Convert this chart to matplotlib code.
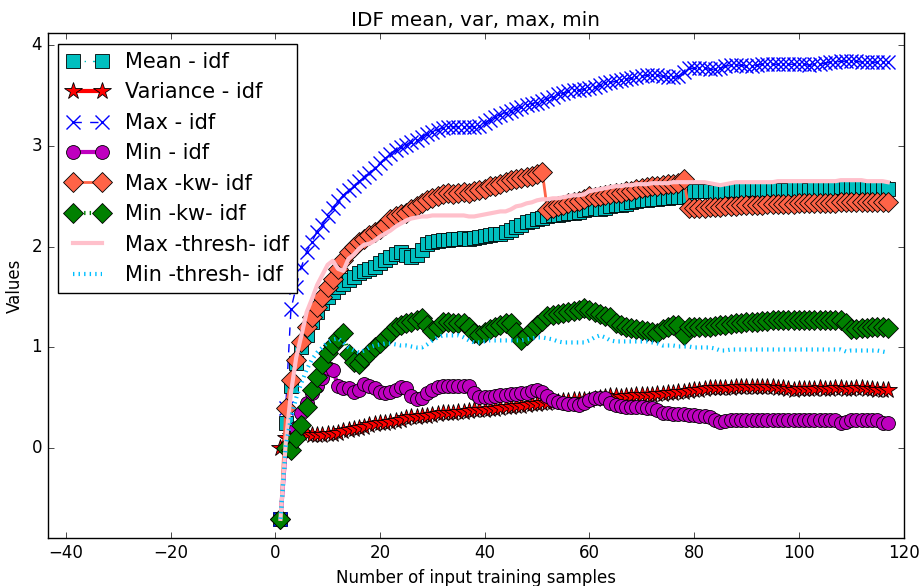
import matplotlib
matplotlib.use("Agg")
import matplotlib.pyplot as plt

plt.style.use("classic")

# number of training samples
samples = list(range(1, 118))

mean_idf = [
    -0.70, 0.25, 0.62, 0.85, 1.00, 1.12, 1.25, 1.35, 1.44, 1.50,
    1.55, 1.60, 1.63, 1.67, 1.70, 1.74, 1.76, 1.78, 1.80, 1.84,
    1.87, 1.90, 1.93, 1.95, 1.92, 1.90, 1.92, 1.97, 2.03, 2.05,
    2.06, 2.07, 2.07, 2.08, 2.08, 2.09, 2.08, 2.09, 2.10, 2.11,
    2.12, 2.13, 2.13, 2.15, 2.17, 2.20, 2.22, 2.24, 2.25, 2.27,
    2.28, 2.30, 2.31, 2.31, 2.32, 2.33, 2.33, 2.34, 2.36, 2.37,
    2.38, 2.37, 2.38, 2.40, 2.41, 2.41, 2.42, 2.44, 2.45, 2.46,
    2.46, 2.47, 2.47, 2.48, 2.48, 2.49, 2.49, 2.49, 2.50, 2.55,
    2.55, 2.55, 2.55, 2.54, 2.54, 2.55, 2.56, 2.56, 2.56, 2.56,
    2.57, 2.57, 2.56, 2.57, 2.57, 2.57, 2.56, 2.56, 2.57, 2.57,
    2.57, 2.56, 2.57, 2.57, 2.57, 2.57, 2.58, 2.59, 2.59, 2.59,
    2.59, 2.59, 2.59, 2.59, 2.58, 2.58, 2.57,
]

var_idf = [
    0.00, 0.10, 0.12, 0.14, 0.15, 0.14, 0.13, 0.13, 0.13, 0.14,
    0.14, 0.15, 0.17, 0.18, 0.19, 0.20, 0.21, 0.23, 0.24, 0.25,
    0.25, 0.26, 0.27, 0.28, 0.30, 0.31, 0.31, 0.32, 0.32, 0.33,
    0.34, 0.35, 0.35, 0.35, 0.36, 0.36, 0.37, 0.38, 0.38, 0.38,
    0.39, 0.39, 0.40, 0.41, 0.41, 0.42, 0.42, 0.43, 0.44, 0.44,
    0.45, 0.45, 0.46, 0.46, 0.47, 0.47, 0.48, 0.48, 0.48, 0.48,
    0.49, 0.50, 0.51, 0.52, 0.52, 0.51, 0.52, 0.52, 0.53, 0.53,
    0.53, 0.53, 0.54, 0.54, 0.55, 0.55, 0.56, 0.56, 0.57, 0.58,
    0.58, 0.59, 0.60, 0.60, 0.60, 0.60, 0.60, 0.61, 0.61, 0.61,
    0.61, 0.61, 0.61, 0.61, 0.61, 0.60, 0.60, 0.59, 0.58, 0.59,
    0.59, 0.59, 0.59, 0.60, 0.59, 0.59, 0.60, 0.60, 0.59, 0.59,
    0.60, 0.60, 0.59, 0.59, 0.58, 0.58, 0.58,
]

max_idf = [
    -0.70, 0.40, 1.38, 1.60, 1.80, 1.95, 2.05, 2.15, 2.22, 2.30,
    2.38, 2.45, 2.51, 2.56, 2.60, 2.65, 2.69, 2.73, 2.78, 2.83,
    2.88, 2.92, 2.96, 2.99, 3.01, 3.04, 3.06, 3.09, 3.12, 3.14,
    3.16, 3.18, 3.19, 3.19, 3.19, 3.19, 3.19, 3.19, 3.20, 3.23,
    3.26, 3.29, 3.31, 3.33, 3.35, 3.37, 3.39, 3.41, 3.42, 3.43,
    3.45, 3.47, 3.49, 3.51, 3.52, 3.54, 3.55, 3.55, 3.56, 3.57,
    3.58, 3.60, 3.62, 3.63, 3.64, 3.65, 3.66, 3.67, 3.68, 3.69,
    3.70, 3.70, 3.70, 3.69, 3.68, 3.68, 3.69, 3.73, 3.77, 3.77,
    3.77, 3.77, 3.76, 3.76, 3.77, 3.79, 3.80, 3.80, 3.80, 3.79,
    3.79, 3.80, 3.81, 3.81, 3.81, 3.81, 3.81, 3.81, 3.81, 3.81,
    3.81, 3.80, 3.81, 3.81, 3.82, 3.83, 3.83, 3.84, 3.84, 3.84,
    3.84, 3.83, 3.83, 3.83, 3.83, 3.83, 3.83,
]

min_idf = [
    -0.70, 0.00, 0.05, 0.20, 0.35, 0.45, 0.55, 0.62, 0.70, 0.80,
    0.78, 0.62, 0.60, 0.60, 0.56, 0.58, 0.64, 0.62, 0.60, 0.56,
    0.55, 0.56, 0.58, 0.61, 0.60, 0.52, 0.49, 0.50, 0.55, 0.58,
    0.61, 0.62, 0.62, 0.62, 0.62, 0.62, 0.62, 0.55, 0.51, 0.51,
    0.51, 0.52, 0.53, 0.53, 0.54, 0.54, 0.55, 0.55, 0.57, 0.58,
    0.56, 0.52, 0.48, 0.46, 0.45, 0.44, 0.44, 0.43, 0.45, 0.48,
    0.50, 0.50, 0.50, 0.45, 0.43, 0.42, 0.41, 0.41, 0.41, 0.41,
    0.40, 0.40, 0.38, 0.35, 0.35, 0.34, 0.34, 0.34, 0.33, 0.33,
    0.32, 0.32, 0.31, 0.28, 0.26, 0.27, 0.28, 0.28, 0.28, 0.28,
    0.28, 0.28, 0.28, 0.28, 0.28, 0.28, 0.28, 0.28, 0.28, 0.28,
    0.28, 0.28, 0.28, 0.28, 0.28, 0.28, 0.28, 0.25, 0.26, 0.28,
    0.28, 0.28, 0.28, 0.28, 0.28, 0.25, 0.25,
]

max_kw_idf = [
    -0.70, 0.40, 0.68, 0.88, 1.05, 1.20, 1.30, 1.40, 1.50, 1.60,
    1.68, 1.78, 1.87, 1.95, 2.00, 2.05, 2.08, 2.12, 2.15, 2.18,
    2.22, 2.27, 2.30, 2.32, 2.33, 2.37, 2.40, 2.43, 2.46, 2.48,
    2.50, 2.52, 2.53, 2.52, 2.53, 2.54, 2.53, 2.55, 2.56, 2.57,
    2.60, 2.60, 2.62, 2.64, 2.66, 2.67, 2.68, 2.69, 2.70, 2.72,
    2.74, 2.36, 2.38, 2.40, 2.41, 2.43, 2.44, 2.45, 2.47, 2.50,
    2.49, 2.50, 2.51, 2.52, 2.53, 2.53, 2.55, 2.55, 2.57, 2.58,
    2.59, 2.60, 2.60, 2.61, 2.62, 2.62, 2.63, 2.67, 2.38, 2.38,
    2.38, 2.38, 2.39, 2.39, 2.39, 2.40, 2.40, 2.40, 2.41, 2.41,
    2.41, 2.41, 2.41, 2.42, 2.42, 2.42, 2.42, 2.42, 2.42, 2.43,
    2.43, 2.43, 2.43, 2.43, 2.43, 2.43, 2.43, 2.44, 2.44, 2.44,
    2.44, 2.44, 2.44, 2.44, 2.44, 2.44, 2.44,
]

min_kw_idf = [
    -0.70, 0.00, -0.02, 0.10, 0.23, 0.41, 0.58, 0.71, 0.84, 0.95,
    1.02, 1.09, 1.14, 0.94, 0.86, 0.84, 0.90, 0.95, 1.00, 1.04,
    1.09, 1.14, 1.20, 1.22, 1.24, 1.25, 1.27, 1.29, 1.22, 1.16,
    1.20, 1.25, 1.25, 1.24, 1.24, 1.24, 1.20, 1.14, 1.12, 1.15,
    1.18, 1.20, 1.22, 1.24, 1.24, 1.15, 1.07, 1.12, 1.17, 1.22,
    1.26, 1.31, 1.32, 1.33, 1.34, 1.35, 1.36, 1.37, 1.39, 1.37,
    1.35, 1.33, 1.31, 1.30, 1.24, 1.22, 1.20, 1.19, 1.18, 1.17,
    1.16, 1.15, 1.14, 1.18, 1.20, 1.22, 1.22, 1.12, 1.20, 1.20,
    1.20, 1.20, 1.20, 1.21, 1.22, 1.22, 1.23, 1.24, 1.24, 1.25,
    1.25, 1.25, 1.26, 1.26, 1.27, 1.27, 1.27, 1.27, 1.27, 1.27,
    1.27, 1.27, 1.27, 1.27, 1.27, 1.27, 1.27, 1.27, 1.24, 1.18,
    1.18, 1.19, 1.19, 1.20, 1.20, 1.20, 1.19,
]

max_thresh_idf = [
    -0.70, 0.05, 0.55, 0.90, 1.12, 1.35, 1.48, 1.62, 1.72, 1.82,
    1.86, 1.78, 1.76, 1.88, 1.92, 1.98, 2.02, 2.03, 2.06, 2.10,
    2.13, 2.16, 2.20, 2.23, 2.26, 2.28, 2.29, 2.30, 2.30, 2.31,
    2.31, 2.31, 2.31, 2.31, 2.31, 2.31, 2.30, 2.30, 2.31, 2.32,
    2.33, 2.34, 2.35, 2.35, 2.37, 2.40, 2.41, 2.43, 2.44, 2.46,
    2.47, 2.47, 2.48, 2.48, 2.49, 2.50, 2.51, 2.51, 2.52, 2.55,
    2.56, 2.57, 2.58, 2.59, 2.60, 2.60, 2.61, 2.61, 2.62, 2.62,
    2.62, 2.63, 2.63, 2.63, 2.63, 2.64, 2.64, 2.64, 2.64, 2.64,
    2.64, 2.64, 2.63, 2.62, 2.61, 2.62, 2.63, 2.64, 2.64, 2.64,
    2.64, 2.64, 2.64, 2.64, 2.64, 2.65, 2.65, 2.65, 2.65, 2.65,
    2.65, 2.65, 2.65, 2.65, 2.65, 2.65, 2.65, 2.66, 2.66, 2.66,
    2.66, 2.66, 2.65, 2.65, 2.65, 2.65, 2.64,
]

min_thresh_idf = [
    -0.70, 0.02, 0.30, 0.50, 0.65, 0.78, 0.88, 0.95, 1.00, 1.05,
    1.08, 1.09, 1.05, 1.00, 0.97, 0.95, 0.97, 1.00, 1.02, 1.03,
    1.04, 1.04, 1.03, 1.02, 1.02, 1.01, 1.00, 1.00, 1.03, 1.07,
    1.10, 1.12, 1.12, 1.12, 1.12, 1.10, 1.07, 1.05, 1.05, 1.06,
    1.07, 1.07, 1.07, 1.07, 1.07, 1.07, 1.07, 1.08, 1.09, 1.10,
    1.10, 1.09, 1.08, 1.06, 1.05, 1.05, 1.05, 1.05, 1.05, 1.07,
    1.10, 1.12, 1.10, 1.07, 1.06, 1.06, 1.06, 1.06, 1.06, 1.06,
    1.06, 1.05, 1.04, 1.02, 1.02, 1.02, 1.01, 1.01, 1.01, 1.00,
    1.00, 1.00, 1.00, 0.99, 0.97, 0.97, 0.98, 0.98, 0.98, 0.98,
    0.98, 0.98, 0.98, 0.98, 0.98, 0.98, 0.98, 0.98, 0.98, 0.98,
    0.98, 0.98, 0.98, 0.98, 0.98, 0.98, 0.98, 0.98, 0.96, 0.97,
    0.97, 0.97, 0.97, 0.97, 0.97, 0.96, 0.95,
]

fig = plt.figure(figsize=(9.24, 5.86), dpi=100, facecolor="w")
fig.subplots_adjust(left=47.5 / 924, right=903.5 / 924,
                    top=1 - 33.3 / 586, bottom=1 - 538.3 / 586)
ax = fig.add_subplot(111)

ms = 10
ax.plot(samples, mean_idf, "-.", color="c", marker="s", ms=ms,
        mec="k", mew=0.6, lw=1, label="Mean - idf")
ax.plot(samples, var_idf, "-", color="r", marker="*", ms=13,
        mec="k", mew=0.6, lw=3, label="Variance - idf")
ax.plot(samples, max_idf, "--", color="b", marker="x", ms=ms,
        mec="b", mew=1, lw=1, label="Max - idf")
ax.plot(samples, min_idf, "-", color="m", marker="o", ms=ms,
        mec="k", mew=0.6, lw=3, label="Min - idf")
ax.plot(samples, max_kw_idf, "-", color="tomato", marker="D", ms=ms,
        mec="k", mew=0.6, lw=2, label="Max -kw- idf")
ax.plot(samples, min_kw_idf, ":", color="g", marker="D", ms=ms,
        mec="k", mew=0.6, lw=3, label="Min -kw- idf")
ax.plot(samples, max_thresh_idf, "-", color="pink", lw=3,
        label="Max -thresh- idf")
ax.plot(samples, min_thresh_idf, ":", color="deepskyblue", lw=3,
        label="Min -thresh- idf")

ax.set_xlim(-43.5, 120)
ax.set_ylim(-0.893, 4.117)
ax.set_xticks(range(-40, 121, 20))
ax.set_yticks(range(0, 5))

ax.set_title("IDF mean, var, max, min")
ax.set_xlabel("Number of input training samples")
ax.set_ylabel("Values")

ax.legend(loc="upper left", numpoints=2, fontsize=15)

fig.savefig("out.png", dpi=100, facecolor="w")
